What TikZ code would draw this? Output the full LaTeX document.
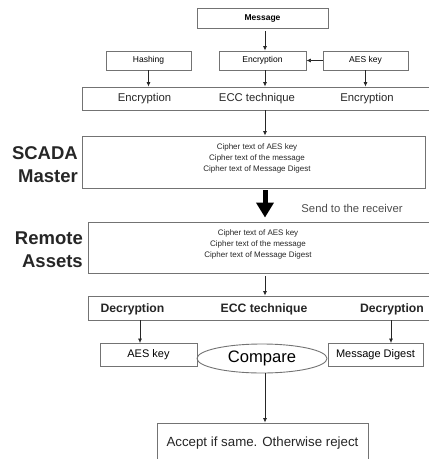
\documentclass[tikz,border=0pt]{standalone}
\usepackage{fontspec}
\setmainfont{Liberation Sans}
\usetikzlibrary{arrows.meta,shapes.geometric}
\begin{document}
\begin{tikzpicture}[x=1pt,y=-1pt,
  box/.style={draw=black!55, line width=0.9pt, inner sep=0pt, anchor=center},
  lbl/.style={inner sep=0pt, text=black!85},
  arr/.style={-{Latex[length=4.5pt,width=4pt]}, line width=0.7pt, draw=black!85},
  bigarr/.style={line width=5pt, draw=black, -{Triangle[length=15pt,width=17pt]}},
  fs/.style={font=\fontsize{8.5}{10}\selectfont},
  fc/.style={font=\fontsize{8}{11}\selectfont, align=center},
  fm/.style={font=\fontsize{11.3}{13}\selectfont},
  fd/.style={font=\fontsize{12.2}{14}\selectfont\bfseries},
  fl/.style={font=\fontsize{18.5}{23}\selectfont\bfseries, align=right},
  fb/.style={font=\fontsize{11}{13}\selectfont}]
\useasboundingbox (0,0) rectangle (429,459);
\clip (0,0) rectangle (429,459);

\coordinate (cx) at (265,0);
\coordinate (dl) at (140,0);
\coordinate (dr) at (391,0);

% top row
\node[box, fs, minimum width=131pt, minimum height=20pt] (msg) at (262.5,18) {\bfseries Message};
\node[box, fs, minimum width=85pt, minimum height=19pt] (hash) at (148.5,60.5) {Hashing};
\node[box, fs, minimum width=87pt, minimum height=19pt] (enc) at (262.5,60.5) {Encryption};
\node[box, fs, minimum width=85pt, minimum height=19pt] (aes) at (365.5,60.5) {AES key};

% ECC encryption row
\node[box, minimum width=360pt, minimum height=23pt] (ecc) at (262,98.5) {};
\node[lbl, fm] (e1) at (144.5,99) {Encryption};
\node[lbl, fm] (e2) at (257,99) {ECC technique};
\node[lbl, fm] (e3) at (367,99) {Encryption};

% SCADA master
\node[box, minimum width=343pt, minimum height=52pt] (scada) at (253.5,162) {};
\node[lbl, fc] (sct) at (257,158.5) {Cipher text of AES key\\Cipher text of the message\\Cipher text of Message Digest};
\node[lbl, fl, anchor=east] (sm) at (78,165) {SCADA\\Master};

% send
\node[lbl, fm, text=black!70] (send) at (352,208) {Send to the receiver};

% Remote assets
\node[box, minimum width=352pt, minimum height=51pt] (remote) at (264,247.5) {};
\node[lbl, fc] (rct) at (258,244.5) {Cipher text of AES key\\Cipher text of the message\\Cipher text of Message Digest};
\node[lbl, fl, anchor=east] (ra) at (83,250) {Remote\\Assets};

% Decryption row
\node[box, minimum width=352pt, minimum height=24pt] (dec) at (264,308) {};
\node[lbl, fd] (d1) at (132.5,309) {Decryption};
\node[lbl, fd] (d2) at (264,309) {ECC technique};
\node[lbl, fd] (d3) at (392,309) {Decryption};

% bottom
\node[box, fb, minimum width=97pt, minimum height=23pt] (aes2) at (148.5,355) {AES key};
\node[box, draw=black!55, ellipse, minimum width=130pt, minimum height=29pt, font=\fontsize{16.6}{18}\selectfont] (cmp) at (262,358.5) {Compare};
\node[box, fb, minimum width=95pt, minimum height=23pt] (md) at (375.5,355) {Message Digest};

\node[box, minimum width=211pt, minimum height=50pt] (acc) at (262.5,448) {};
\node[lbl, font=\fontsize{13.3}{15}\selectfont] (acct) at (262.5,443) {Accept if same. Otherwise reject};

% connectors
\draw[arr, shorten <=3pt] (cx |- msg.south) -- (cx |- enc.north);
\draw[arr] (aes.west) -- (enc.east);
\draw[arr] (hash.south) -- (hash.south |- ecc.north);
\draw[arr] (cx |- enc.south) -- (cx |- ecc.north);
\draw[arr] (aes.south) -- (aes.south |- ecc.north);
\draw[arr] (cx |- ecc.south) -- (cx |- scada.north);
\draw[bigarr, shorten <=2pt, shorten >=4pt] (cx |- scada.south) -- (cx |- remote.north);
\draw[arr, shorten <=3pt] (cx |- remote.south) -- (cx |- dec.north);
\draw[arr] (dl |- dec.south) -- (dl |- aes2.north);
\draw[arr] (dr |- dec.south) -- (dr |- md.north);
\draw[arr] (cx |- cmp.south) -- (cx |- acc.north);
\end{tikzpicture}
\end{document}
